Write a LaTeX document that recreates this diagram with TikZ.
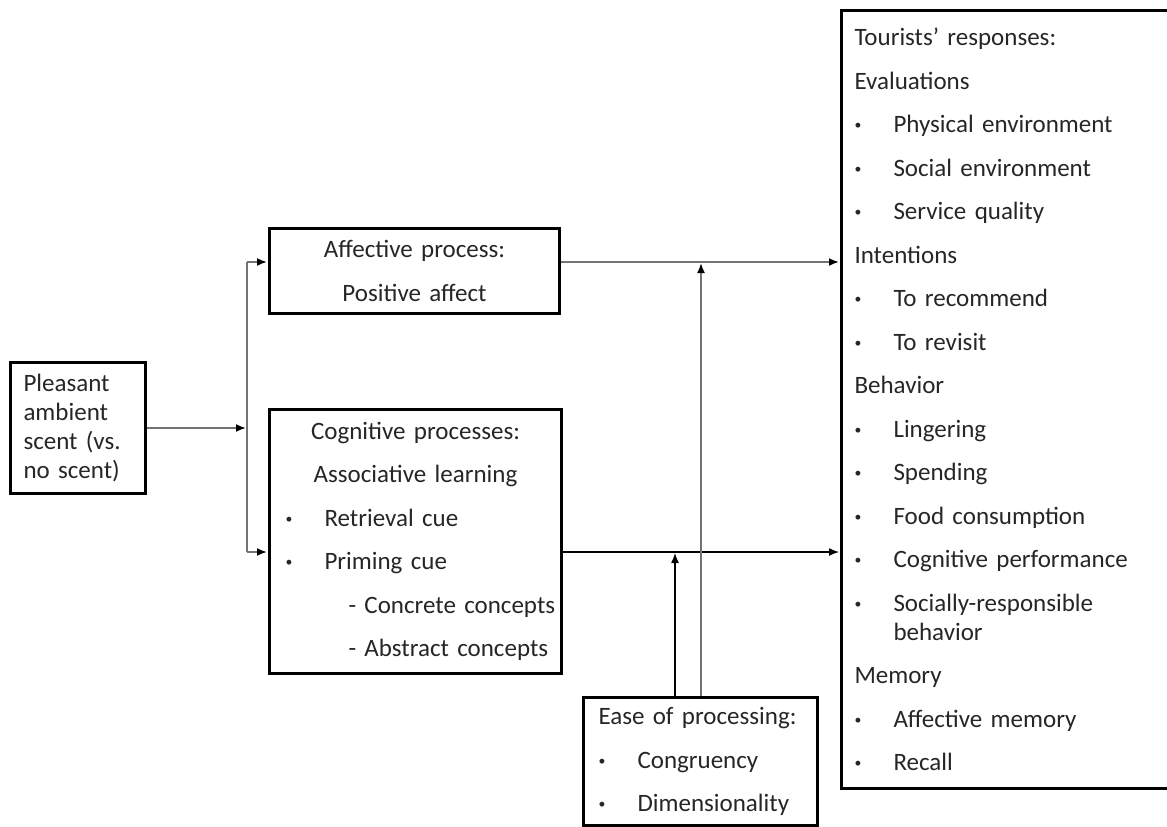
\documentclass[tikz,border=0pt]{standalone}
\usepackage{fontspec}
\setmainfont{Carlito}
\usepackage{tikz}
\usetikzlibrary{positioning}
\usetikzlibrary{shapes.geometric, arrows.meta}
\tikzstyle{box} = [rectangle, draw=black, line width=3pt, inner ysep=0pt, text=black!85, font=\fontsize{25}{43.5}\selectfont]
\tikzstyle{arrow} = [line width=1.8pt, draw=black!55, -{Latex[length=10pt,width=8pt,color=black]}, shorten >=1pt]
\tikzstyle{darkarrow} = [arrow, draw=black, line width=1.3pt]
\tikzstyle{link} = [line width=1.8pt, draw=black!55]
\newcommand{\itm}[1]{\makebox[39pt][l]{\raisebox{0.25ex}{\scalebox{0.55}{\textbullet}}}#1}

\begin{document}
\begin{tikzpicture}[x=1pt, y=-1pt]

	\useasboundingbox (0,0) rectangle (1167,827);
	\clip (0,0) rectangle (1167,827);

	\node (scent) [box, anchor=north west, minimum width=135pt, minimum height=131pt, text width=109pt, inner xsep=13pt, align=left, font=\fontsize{25}{29}\selectfont] at (9,361) {Pleasant\\ambient\\scent (vs.\\no scent)};

	\node (affect) [box, anchor=north west, minimum width=290pt, minimum height=85pt, text width=260pt, inner xsep=15pt, align=center] at (268,227) {Affective process:\\Positive affect};

	\node (cognit) [box, anchor=north west, minimum width=292pt, minimum height=264pt, text width=260pt, inner xsep=16pt, align=left] at (268,408) {\makebox[260pt]{Cognitive processes:}\\\makebox[260pt]{Associative learning}\\\itm{Retrieval cue}\\\itm{Priming cue}\\\hspace*{63pt}\mbox{- Concrete concepts}\\\hspace*{63pt}\mbox{- Abstract concepts}};

	\node (ease) [box, anchor=north west, minimum width=234pt, minimum height=128pt, text width=204pt, inner xsep=15pt, align=left] at (582,696) {Ease of processing:\\\itm{Congruency}\\\itm{Dimensionality}};

	\node (resp) [box, anchor=north west, minimum width=340pt, minimum height=778pt, text width=314pt, inner xsep=13pt, align=left] at (840,9) {Tourists’ responses:\\Evaluations\\\itm{Physical environment}\\\itm{Social environment}\\\itm{Service quality}\\Intentions\\\itm{To recommend}\\\itm{To revisit}\\Behavior\\\itm{Lingering}\\\itm{Spending}\\\itm{Food consumption}\\\itm{Cognitive performance}\\\itm{Socially-responsible}\\[-14.5pt]\hspace*{39pt}behavior\\Memory\\\itm{Affective memory}\\\itm{Recall}};

	\coordinate (affY) at (0,262);
	\coordinate (cogY) at (0,552);
	\coordinate (forkX) at (247,0);
	\coordinate (easeA) at (675,0);
	\coordinate (easeB) at (701,0);

	\draw [arrow] (scent.east) -- (scent.east -| forkX);
	\draw [link] (forkX |- affY) -- (forkX |- cogY);
	\draw [arrow] (forkX |- affY) -- (affect.west |- affY);
	\draw [arrow] (forkX |- cogY) -- (cognit.west |- cogY);

	\draw [arrow] (affect.east |- affY) -- (resp.west |- affY);
	\draw [darkarrow] (cognit.east |- cogY) -- (resp.west |- cogY);

	\draw [arrow] (ease.north -| easeB) -- (easeB |- affY);
	\draw [darkarrow] (ease.north -| easeA) -- (easeA |- cogY);

\end{tikzpicture}
\end{document}
